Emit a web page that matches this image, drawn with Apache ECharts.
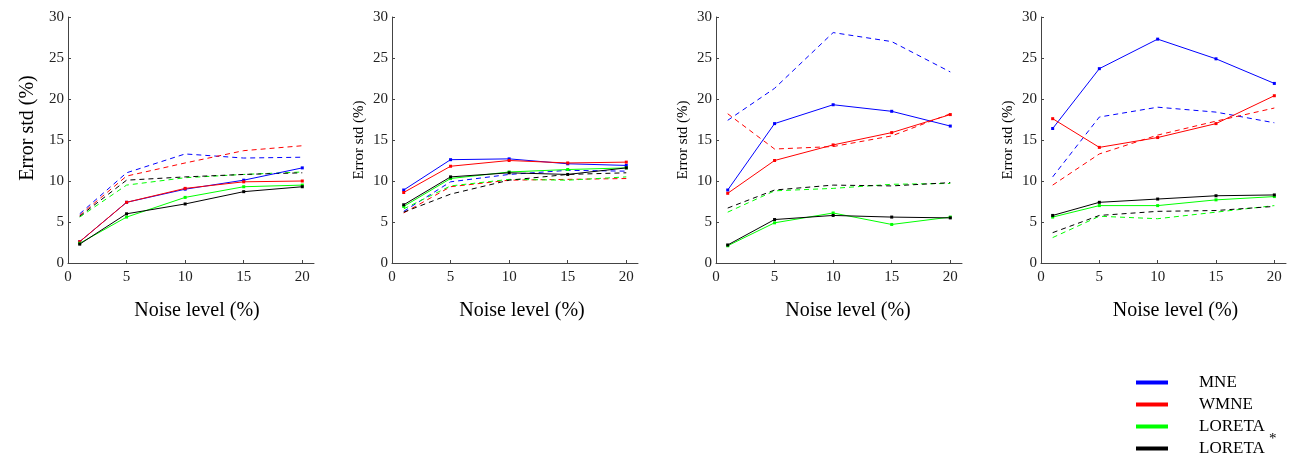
<!DOCTYPE html>
<html lang="en">
<head>
  <meta charset="UTF-8">
  <title>Error std vs noise level</title>
  <script src="https://cdn.jsdelivr.net/npm/echarts@6/dist/echarts.min.js"></script>
  <style>
    html, body { margin: 0; padding: 0; background: #fff; }
  </style>
</head>
<body>
  <div id="main" style="width: 1293px; height: 456px;"></div>

  <script>
    // x values (noise level %)
    const noise = [1, 5, 10, 15, 20]
    const xTicks = [0, 5, 10, 15, 20]
    const methods = ['MNE', 'WMNE', 'LORETA', 'LORETA*']
    const colors = ['#0000ff', '#ff0000', '#00ff00', '#000000']

    // panel 1 - solid lines
    const p1Mne = [2.6, 7.4, 9.0, 10.1, 11.6]
    const p1Wmne = [2.6, 7.4, 9.1, 9.9, 10.0]
    const p1Loreta = [2.4, 5.6, 8.0, 9.3, 9.5]
    const p1LoretaS = [2.3, 6.0, 7.2, 8.7, 9.3]
    // panel 1 - dashed lines
    const p1MneD = [6.0, 11.0, 13.3, 12.8, 12.9]
    const p1WmneD = [5.8, 10.6, 12.2, 13.7, 14.3]
    const p1LoretaD = [5.6, 9.5, 10.4, 10.8, 11.1]
    const p1LoretaSD = [5.7, 10.1, 10.5, 10.8, 11.0]

    // panel 2
    const p2Mne = [8.9, 12.6, 12.7, 12.1, 11.9]
    const p2Wmne = [8.6, 11.8, 12.5, 12.2, 12.3]
    const p2Loreta = [6.9, 10.3, 11.1, 11.4, 11.6]
    const p2LoretaS = [7.1, 10.5, 11.0, 10.8, 11.6]
    const p2MneD = [6.3, 9.9, 10.8, 11.3, 11.2]
    const p2WmneD = [6.1, 9.3, 10.1, 10.2, 10.3]
    const p2LoretaD = [6.6, 9.4, 10.2, 10.1, 10.5]
    const p2LoretaSD = [6.2, 8.4, 10.1, 10.8, 11.0]

    // panel 3
    const p3Mne = [8.9, 17.0, 19.3, 18.5, 16.7]
    const p3Wmne = [8.5, 12.5, 14.4, 15.9, 18.1]
    const p3Loreta = [2.1, 4.9, 6.1, 4.7, 5.6]
    const p3LoretaS = [2.2, 5.3, 5.8, 5.6, 5.5]
    const p3MneD = [17.4, 21.3, 28.1, 27.0, 23.3]
    const p3WmneD = [18.2, 13.9, 14.2, 15.5, 18.2]
    const p3LoretaD = [6.2, 8.8, 9.1, 9.6, 9.7]
    const p3LoretaSD = [6.7, 8.9, 9.5, 9.4, 9.8]

    // panel 4
    const p4Mne = [16.4, 23.7, 27.3, 24.9, 21.9]
    const p4Wmne = [17.6, 14.1, 15.3, 17.0, 20.4]
    const p4Loreta = [5.6, 7.0, 7.0, 7.7, 8.1]
    const p4LoretaS = [5.8, 7.4, 7.8, 8.2, 8.3]
    const p4MneD = [10.5, 17.8, 19.0, 18.4, 17.1]
    const p4WmneD = [9.5, 13.3, 15.6, 17.3, 18.9]
    const p4LoretaD = [3.1, 5.7, 5.4, 6.2, 7.0]
    const p4LoretaSD = [3.7, 5.8, 6.3, 6.4, 6.9]

    const solid = [
      [p1Mne, p1Wmne, p1Loreta, p1LoretaS],
      [p2Mne, p2Wmne, p2Loreta, p2LoretaS],
      [p3Mne, p3Wmne, p3Loreta, p3LoretaS],
      [p4Mne, p4Wmne, p4Loreta, p4LoretaS]
    ]
    const dashed = [
      [p1MneD, p1WmneD, p1LoretaD, p1LoretaSD],
      [p2MneD, p2WmneD, p2LoretaD, p2LoretaSD],
      [p3MneD, p3WmneD, p3LoretaD, p3LoretaSD],
      [p4MneD, p4WmneD, p4LoretaD, p4LoretaSD]
    ]

    const font = 'Liberation Serif'
    const axisColor = '#444'
    // grid left / right for each panel
    const gridLR = [[68, 979], [392, 655], [716, 331], [1041, 7]]
    // x-title nudged right a little in each panel
    const xNamePad = [12, 14, 18, 24]

    const pairs = vals => vals.map((v, i) => [noise[i], v])

    let grids = [], xAxes = [], yAxes = [], series = []
    gridLR.forEach((lr, g) => {
      grids.push({ left: lr[0], right: lr[1], top: 17, bottom: 193 })
      xAxes.push({
        type: 'value', gridIndex: g, min: 0, max: 21, interval: 5,
        name: 'Noise level (%)', nameLocation: 'middle', nameGap: 38,
        nameTextStyle: { fontFamily: font, fontSize: 20, color: '#000', padding: [0, 0, 0, xNamePad[g]] },
        axisLine: { lineStyle: { color: axisColor } },
        axisTick: { inside: true, length: 3, customValues: xTicks, lineStyle: { color: axisColor } },
        axisLabel: { customValues: xTicks, margin: 7, fontFamily: font, fontSize: 15, color: '#222' },
        splitLine: { show: false }
      })
      yAxes.push({
        type: 'value', gridIndex: g, min: 0, max: 30, interval: 5,
        name: 'Error std (%)', nameLocation: 'middle', nameGap: g === 0 ? 30 : 25,
        nameTextStyle: {
          fontFamily: font, fontSize: g === 0 ? 20 : 15, color: '#000',
          padding: g === 0 ? [0, 0, 0, 24] : 0
        },
        axisLine: { show: true, lineStyle: { color: axisColor } },
        axisTick: { show: true, inside: true, length: 3, lineStyle: { color: axisColor } },
        axisLabel: { margin: 4, fontFamily: font, fontSize: 15, color: '#222' },
        splitLine: { show: false }
      })
      methods.forEach((m, k) => {
        series.push({
          name: m, type: 'line', xAxisIndex: g, yAxisIndex: g,
          data: pairs(dashed[g][k]),
          showSymbol: false, color: colors[k],
          lineStyle: { width: 1, type: [5, 4], color: colors[k] },
          animation: false
        })
      })
      methods.forEach((m, k) => {
        series.push({
          name: m, type: 'line', xAxisIndex: g, yAxisIndex: g,
          data: pairs(solid[g][k]),
          symbol: 'rect', symbolSize: 3, color: colors[k],
          itemStyle: { color: colors[k] },
          lineStyle: { width: 1, color: colors[k] },
          animation: false
        })
      })
    })

    let myChart = echarts.init(document.querySelector('#main'))
    myChart.setOption({
      animation: false,
      grid: grids,
      xAxis: xAxes,
      yAxis: yAxes,
      legend: {
        data: methods,
        orient: 'vertical',
        left: 1131, top: 369, height: 110,
        icon: 'rect', itemWidth: 32, itemHeight: 4, itemGap: 5,
        selectedMode: false,
        // the asterisk is drawn as a raised superscript below
        formatter: name => name.replace('*', ''),
        textStyle: {
          fontFamily: font, fontSize: 17, lineHeight: 16, color: '#000',
          padding: [0, 0, 0, 26]
        }
      },
      graphic: [{
        type: 'text', left: 1269, top: 432,
        style: { text: '*', fontFamily: font, fontSize: 15, fill: '#000' }
      }],
      series: series
    })
  </script>
</body>
</html>
